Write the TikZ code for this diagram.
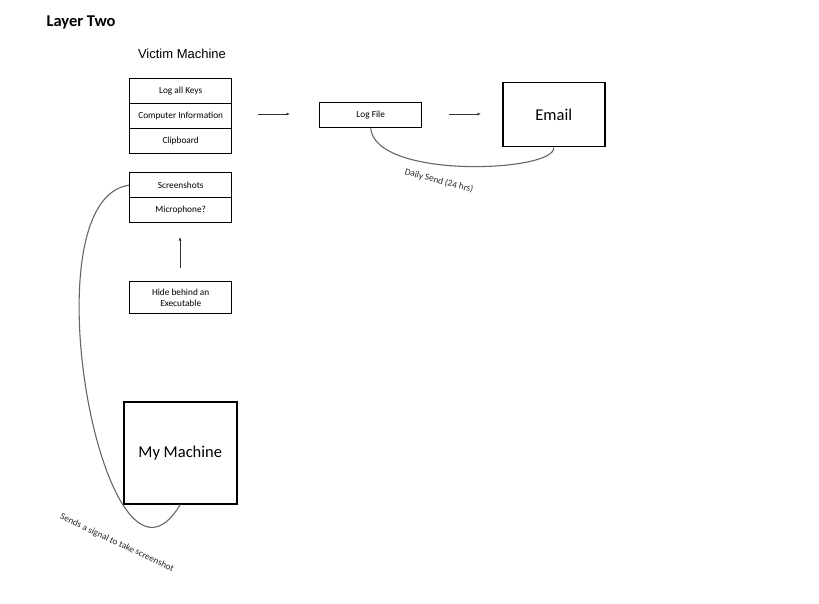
\documentclass[tikz,border=0pt]{standalone}
\usepackage{fontspec}
\setmainfont{Carlito}
\newfontfamily\arialfont{Liberation Sans}
\usetikzlibrary{arrows.meta}
\begin{document}
\begin{tikzpicture}[x=1pt,y=-1pt,
  cell/.style={draw=black,line width=1.4pt,minimum width=102pt,minimum height=25pt,
    inner sep=0pt,font=\fontsize{9.3}{11}\selectfont,align=center,anchor=north west},
  bigbox/.style={draw=black,line width=1.5pt,inner sep=0pt,font=\fontsize{16.5}{19}\selectfont,anchor=north west},
  flow/.style={draw=black!80,line width=0.9pt,-{Latex[length=3.5pt,width=3pt]}},
  link/.style={draw=black!60,line width=1.1pt},
  note/.style={font=\fontsize{9.3}{11}\selectfont,text=black!85}]
\useasboundingbox (0,0) rectangle (819,604);

% titles
\node[anchor=west,font=\fontsize{16.5}{19}\selectfont\bfseries] (layer) at (43,22) {Layer Two};
\node[font=\arialfont\fontsize{13}{16}\selectfont] (victim) at (182,54) {Victim Machine};

% victim machine stacks
\node[cell] (keys) at (129,78) {Log all Keys};
\node[cell] (info) at (129,103) {Computer Information};
\node[cell] (clip) at (129,128) {Clipboard};
\node[cell] (shots) at (129,172) {Screenshots};
\node[cell] (mic) at (129,197) {Microphone?};
\node[cell,minimum height=32pt] (hide) at (129,281) {Hide behind an\\Executable};

% log file and email
\node[cell] (log) at (319,102) {Log File};
\node[bigbox,minimum width=102pt,minimum height=64pt] (email) at (502,82) {Email};

% attacker machine
\node[bigbox,minimum width=113pt,minimum height=102pt] (mine) at (123,401) {My Machine};

% free arrows
\coordinate (a1s) at (258,114); \coordinate (a1e) at (290,114);
\coordinate (a2s) at (449,114); \coordinate (a2e) at (481,114);
\coordinate (a3s) at (180,268); \coordinate (a3e) at (180,237);
\draw[flow] (a1s) -- (a1e);
\draw[flow] (a2s) -- (a2e);
\draw[flow] (a3s) -- (a3e);

% daily send link
\draw[link] (log.south) .. controls (376,180) and (556,172) .. (email.south);
\node[note,rotate=-15] (daily) at (439,181) {Daily Send (24 hrs)};

% screenshot signal link
\draw[link] (shots.west) .. controls (24,200) and (106,630) .. (mine.south);
\node[note,rotate=-25] (signal) at (117,543) {Sends a signal to take screenshot};
\end{tikzpicture}
\end{document}
